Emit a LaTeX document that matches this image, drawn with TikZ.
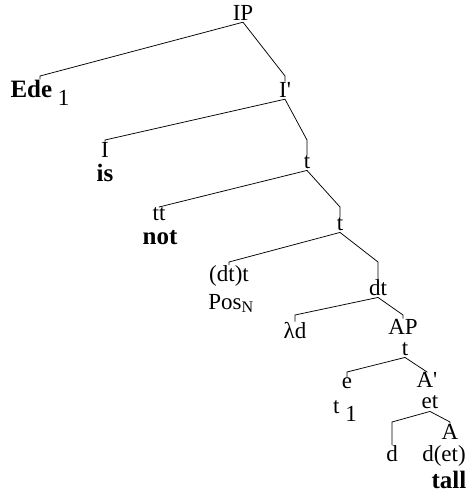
\documentclass[tikz,border=0pt]{standalone}
\usepackage{fontspec}
\setmainfont{Liberation Serif}
\usepackage{tikz}

\tikzset{
  lbl/.style={inner sep=0pt, anchor=base, font=\fontsize{23}{26}\selectfont},
  wrd/.style={inner sep=0pt, anchor=base, font=\fontsize{25}{28}\selectfont\bfseries},
  branch/.style={line width=0.75pt}
}

\begin{document}
\begin{tikzpicture}[x=1pt,y=-1pt]
        \useasboundingbox (0,0) rectangle (475,493);

        % ==========================================
        % Labels (x = centre, y = baseline, downwards)
        % ==========================================
        \node[lbl] (ip) at (243,20) {IP};
        \node[lbl] (ede) at (40,97) {\textbf{\fontsize{25}{28}\selectfont Ede}\ \raisebox{-8pt}{1}};
        \node[lbl] (ibar) at (285,97) {I\textquotesingle};

        \node[lbl] (i) at (105,157) {I};
        \node[wrd] (is) at (105,181) {is};
        \node[lbl] (t1) at (307,168) {t};

        \node[lbl] (tt) at (159,220) {tt};
        \node[wrd] (not) at (160,244) {not};
        \node[lbl] (t2) at (340,230) {t};

        \node[lbl] (dtt) at (229,281) {(dt)t};
        \node[lbl] (pos) at (231,309) {Pos\textsubscript{N}};
        \node[lbl] (dt) at (378,295) {dt};

        \node[lbl] (lamd) at (295,338) {λd};
        \node[lbl] (ap) at (403,334) {AP};
        \node[lbl] (t3) at (405,355) {t};

        \node[lbl] (e) at (347,388) {e};
        \node[lbl] (tone) at (345,413) {t\ \raisebox{-8pt}{1}};
        \node[lbl] (abar) at (427,387) {A\textquotesingle};
        \node[lbl] (et) at (430,408) {et};

        \node[lbl] (d) at (392,461) {d};
        \node[lbl] (a) at (450,439) {A};
        \node[lbl] (det) at (444,461) {d(et)};
        \node[wrd] (tall) at (449,488) {tall};

        % ==========================================
        % Rows where the branches bend
        % ==========================================
        \coordinate (r1) at (0,76);
        \coordinate (r2) at (0,140);
        \coordinate (r3) at (0,207);
        \coordinate (r4) at (0,262);
        \coordinate (r5) at (0,315);
        \coordinate (r6) at (0,372);
        \coordinate (r7) at (0,422);

        % ==========================================
        % Branches
        % ==========================================
        \draw[branch] (ede.north) -- (ede.north |- r1) -- ([yshift=-2pt]ip.south)
              -- (ibar.north |- r1) -- (ibar.north);
        \draw[branch] (i.north) -- (i.north |- r2) -- ([yshift=-2pt]ibar.south)
              -- (t1.north |- r2) -- (t1.north);
        \draw[branch] (tt.north) -- (tt.north |- r3) -- ([yshift=-2pt]t1.south)
              -- (t2.north |- r3) -- (t2.north);
        \draw[branch] (dtt.north) -- (dtt.north |- r4) -- ([yshift=-2pt]t2.south)
              -- (dt.north |- r4) -- (dt.north);
        \draw[branch] (lamd.north) -- (lamd.north |- r5) -- ([yshift=-2pt]dt.south)
              -- (ap.north |- r5) -- (ap.north);
        \draw[branch] (e.north) -- (e.north |- r6) -- ([yshift=-2pt]t3.south)
              -- (abar.north |- r6) -- (abar.north);
        \draw[branch] (d.north) -- (d.north |- r7) -- ([yshift=-3pt]et.south)
              -- (a.north |- r7) -- (a.north);

    \end{tikzpicture}
\end{document}
